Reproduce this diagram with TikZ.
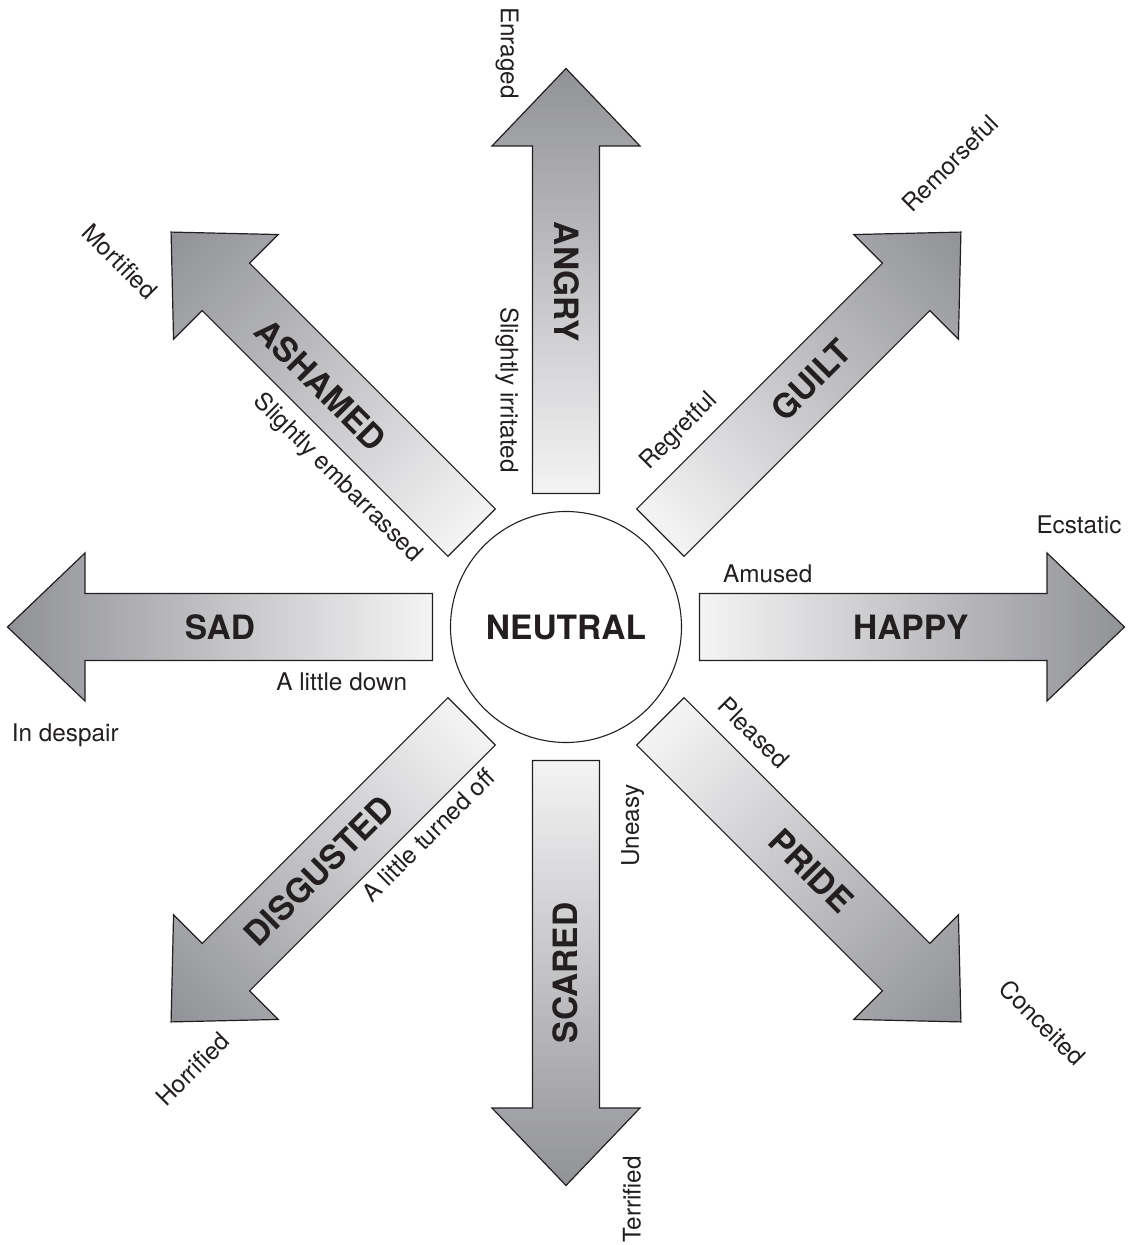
\documentclass[tikz,border=0pt]{standalone}
\usepackage{fontspec}
\setmainfont{TeX Gyre Heros}
\definecolor{inkc}{RGB}{35,31,32}
\definecolor{lightc}{RGB}{244,244,245}
\definecolor{darkc}{RGB}{145,146,150}
\tikzset{
  lbl/.style={font=\fontsize{24.3}{29}\selectfont, inner sep=0pt, text=inkc},
  big/.style={font=\fontsize{33.5}{40}\selectfont\bfseries, inner sep=0pt, text=inkc},
  arrowbody/.style={draw=inkc, line width=1.2pt, left color=lightc, right color=darkc, line join=miter}
}
\begin{document}
\begin{tikzpicture}[x=1pt,y=1pt]
\useasboundingbox (-566,-618) rectangle (564,627);
% arrows
\foreach \a in {0,45,...,315}{
  \begin{scope}[transform canvas={rotate=\a}]
    \shade[arrowbody] (133.5,-33.5) -- (481,-33.5) -- (481,-74) -- (558.5,0) -- (481,74) -- (481,33.5) -- (133.5,33.5) -- cycle;
  \end{scope}
}
% centre
\node[circle, draw=inkc, line width=1.1pt, minimum size=231pt, inner sep=0pt, fill=white] (neutral) at (0,0) {};
\node[big] (neutraltext) at (0,0) {NEUTRAL};
% ANGRY
\node[big, rotate=-90] (angry) at (1,345) {ANGRY};
\node[lbl, rotate=-90] (enraged) at (-59,574) {Enraged};
\node[lbl, rotate=-90] (irritated) at (-59,237) {Slightly irritated};
% GUILT
\node[big, rotate=45] (guilt) at (244.8,247) {GUILT};
\node[lbl, rotate=45] (regretful) at (113.2,195.3) {Regretful};
\node[lbl, rotate=45] (remorseful) at (384,463.7) {Remorseful};
% HAPPY
\node[big] (happy) at (344.8,0) {HAPPY};
\node[lbl, anchor=base] (ecstatic) at (513,93) {Ecstatic};
\node[lbl, anchor=base] (amused) at (201.7,44.3) {Amused};
% PRIDE
\node[big, rotate=-45] (pride) at (245.3,-243.8) {PRIDE};
\node[lbl, rotate=-45] (pleased) at (187.8,-105.8) {Pleased};
\node[lbl, rotate=-45] (conceited) at (476.5,-395.5) {Conceited};
% SCARED
\node[big, rotate=90] (scared) at (-1,-346) {SCARED};
\node[lbl, rotate=90] (uneasy) at (66.7,-198.8) {Uneasy};
\node[lbl, rotate=90] (terrified) at (66,-572.5) {Terrified};
% DISGUSTED
\node[big, rotate=45] (disgusted) at (-246.8,-243.8) {DISGUSTED};
\node[lbl, rotate=45] (turnedoff) at (-137.7,-208.3) {A little turned off};
\node[lbl, rotate=45] (horrified) at (-373.5,-442.2) {Horrified};
% SAD
\node[big] (sad) at (-346,0) {SAD};
\node[lbl, anchor=base west] (despair) at (-554.3,-114.7) {In despair};
\node[lbl, anchor=base east] (down) at (-158.7,-63) {A little down};
% ASHAMED
\node[big, rotate=-45] (ashamed) at (-245.2,242) {ASHAMED};
\node[lbl, rotate=-45] (mortified) at (-446,365.3) {Mortified};
\node[lbl, rotate=-45] (embarrassed) at (-228.5,148.7) {Slightly embarrassed};
\end{tikzpicture}
\end{document}
